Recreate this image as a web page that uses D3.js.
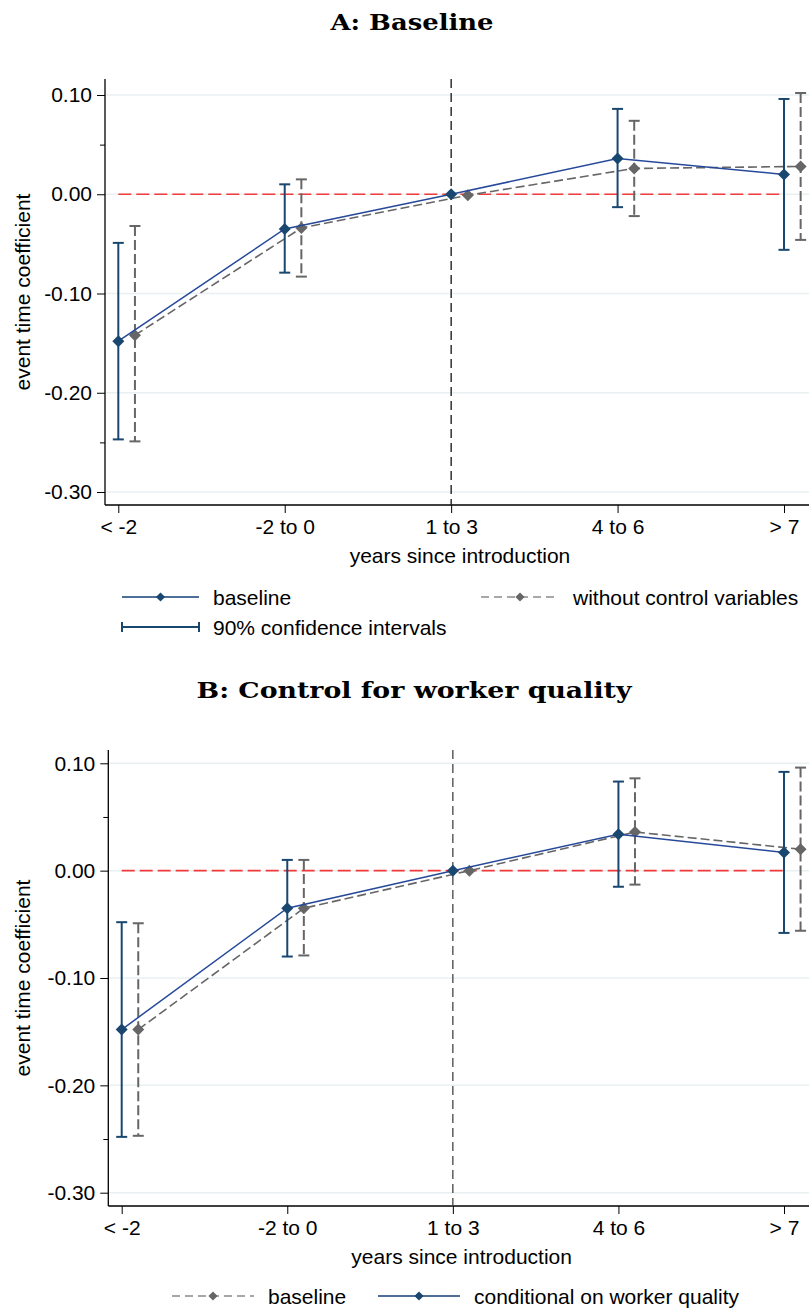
<!DOCTYPE html>
<html>
<head>
<meta charset="utf-8">
<script src="https://cdn.jsdelivr.net/npm/d3@7"></script>
<style>
  html, body { margin: 0; padding: 0; background: #fff; }
  svg { display: block; }
  text { font-family: "Liberation Sans", Arial, sans-serif; fill: #000; }
  .title { font-family: "DejaVu Serif", serif; font-weight: bold; }
</style>
</head>
<body>
<svg id="chart" width="809" height="1309"></svg>
<script>
// ---------------- data ----------------
const categories = ["< -2", "-2 to 0", "1 to 3", "4 to 6", "> 7"];
const yTicks = [0.10, 0.00, -0.10, -0.20, -0.30];
const yMinorTicks = [0.05, -0.25];

// Panel A
const aBaseline    = [-0.148, -0.035, 0.000, 0.036, 0.020];
const aBaselineLo  = [-0.247, -0.079, null, -0.013, -0.056];
const aBaselineHi  = [-0.049,  0.010, null,  0.086,  0.096];
const aNoControl   = [-0.142, -0.034, -0.001, 0.026, 0.028];
const aNoControlLo = [-0.249, -0.083, null, -0.022, -0.046];
const aNoControlHi = [-0.032,  0.015, null,  0.074,  0.102];

// Panel B
const bBaseline    = [-0.148, -0.035, 0.000, 0.036, 0.020];
const bBaselineLo  = [-0.247, -0.079, null, -0.013, -0.056];
const bBaselineHi  = [-0.049,  0.010, null,  0.086,  0.096];
const bWorker      = [-0.148, -0.035, 0.000, 0.034, 0.017];
const bWorkerLo    = [-0.248, -0.080, null, -0.015, -0.058];
const bWorkerHi    = [-0.048,  0.010, null,  0.083,  0.092];

const titles = ["A: Baseline", "B: Control for worker quality"];
const xTitle = "years since introduction";
const yTitle = "event time coefficient";

// ---------------- style ----------------
const NAVY = "#1a476f";
const LINEBLUE = "#27499a";
const GRAY = "#666666";
const RED = "#f23a3a";
const GRID = "#e9f0f2";

const svg = d3.select("#chart");
const fmt = d => (Math.abs(d) < 1e-9 ? 0 : d).toFixed(2);

function drawPanel(cfg) {
  const g = svg.append("g");
  const x = d3.scaleLinear().domain([0, 4]).range([cfg.x0, cfg.x4]);
  const y = d3.scaleLinear().domain([0.10, -0.30]).range([cfg.y10, cfg.y30]);

  // gridlines
  g.selectAll(".grid").data(yTicks).enter().append("line")
    .attr("x1", cfg.left).attr("x2", cfg.right)
    .attr("y1", d => y(d)).attr("y2", d => y(d))
    .attr("stroke", GRID).attr("stroke-width", 1.5);

  // y axis
  const yAxis = d3.axisLeft(y).tickValues(yTicks).tickFormat(fmt).tickSize(8).tickPadding(5);
  const ya = g.append("g").attr("transform", `translate(${cfg.left},0)`).call(yAxis);
  ya.select(".domain").attr("d", `M0,${cfg.top}V${cfg.bottom}`).attr("stroke", "#000").attr("stroke-width", 1.3);
  ya.selectAll(".tick line").attr("stroke", "#000").attr("stroke-width", 1);
  ya.selectAll(".tick text").style("font-size", "21px").style("font-family", "Liberation Sans, Arial, sans-serif").attr("fill", "#000");
  const yMinor = d3.axisLeft(y).tickValues(yMinorTicks).tickFormat("").tickSize(5);
  const ym = g.append("g").attr("transform", `translate(${cfg.left},0)`).call(yMinor);
  ym.select(".domain").remove();
  ym.selectAll(".tick line").attr("stroke", "#000").attr("stroke-width", 1);

  // x axis
  const xAxis = d3.axisBottom(x).tickValues([0, 1, 2, 3, 4]).tickFormat(i => categories[i]).tickSize(8).tickPadding(6);
  const xa = g.append("g").attr("transform", `translate(0,${cfg.bottom})`).call(xAxis);
  xa.select(".domain").attr("d", `M${cfg.left},0H${cfg.right}`).attr("stroke", "#000").attr("stroke-width", 1.3);
  xa.selectAll(".tick line").attr("stroke", "#000").attr("stroke-width", 1);
  xa.selectAll(".tick text").style("font-size", "21px").style("font-family", "Liberation Sans, Arial, sans-serif").attr("fill", "#000");

  // red zero line
  g.append("line").attr("x1", x(0)).attr("x2", x(4))
    .attr("y1", y(0)).attr("y2", y(0))
    .attr("stroke", RED).attr("stroke-width", 1.6).attr("stroke-dasharray", "13,5");

  // vertical dashed line at "1 to 3"
  g.append("line").attr("x1", x(2)).attr("x2", x(2))
    .attr("y1", cfg.top).attr("y2", cfg.bottom)
    .attr("stroke", cfg.vColor).attr("stroke-width", 1.3).attr("stroke-dasharray", "9,5");

  // square rotated 45deg = Stata diamond
  const diamond = d3.symbol().type(d3.symbolSquare).size(cfg.dsize);

  function drawSeries(s) {
    const xs = i => x(i + s.offset);
    // CI
    s.lo.forEach((lo, i) => {
      if (lo === null) return;
      const hi = s.hi[i];
      const cx = xs(i);
      g.append("line").attr("x1", cx).attr("x2", cx).attr("y1", y(hi)).attr("y2", y(lo))
        .attr("stroke", s.ciColor).attr("stroke-width", 2)
        .attr("stroke-dasharray", s.dashed ? "10,4" : null);
      [lo, hi].forEach(v => {
        g.append("line").attr("x1", cx - 5.5).attr("x2", cx + 5.5).attr("y1", y(v)).attr("y2", y(v))
          .attr("stroke", s.ciColor).attr("stroke-width", 2);
      });
    });
    // connecting line
    const line = d3.line().x((d, i) => xs(i)).y(d => y(d));
    g.append("path").attr("d", line(s.vals)).attr("fill", "none")
      .attr("stroke", s.lineColor).attr("stroke-width", s.dashed ? 1.6 : 1.5)
      .attr("stroke-dasharray", s.dashed ? "9,4" : null);
    // markers
    g.selectAll(null).data(s.vals).enter().append("path")
      .attr("d", diamond)
      .attr("transform", (d, i) => `translate(${xs(i)},${y(d)}) rotate(45)`)
      .attr("fill", s.markColor);
  }
  cfg.series.forEach(drawSeries);

  // titles
  svg.append("text").attr("class", "title")
    .attr("x", cfg.titleX).attr("y", cfg.titleY)
    .attr("text-anchor", "middle").style("font-size", "22px")
    .attr("textLength", cfg.titleLen).attr("lengthAdjust", "spacingAndGlyphs")
    .text(cfg.title);
  svg.append("text").attr("x", (cfg.left + cfg.right) / 2 + cfg.xtDx).attr("y", cfg.bottom + 58)
    .attr("text-anchor", "middle").style("font-size", "21px").text(xTitle);
  svg.append("text")
    .attr("transform", `translate(${cfg.ytX},${cfg.ytY}) rotate(-90)`)
    .attr("text-anchor", "middle").style("font-size", "21px").text(yTitle);

  // legend
  cfg.legend.forEach(L => {
    const lg = svg.append("g");
    if (L.type === "ci") {
      lg.append("line").attr("x1", L.x1).attr("x2", L.x2).attr("y1", L.y).attr("y2", L.y)
        .attr("stroke", NAVY).attr("stroke-width", 2);
      [L.x1, L.x2].forEach(xx => lg.append("line").attr("x1", xx).attr("x2", xx)
        .attr("y1", L.y - 5).attr("y2", L.y + 5).attr("stroke", NAVY).attr("stroke-width", 2));
    } else {
      lg.append("line").attr("x1", L.x1).attr("x2", L.x2).attr("y1", L.y).attr("y2", L.y)
        .attr("stroke", L.color).attr("stroke-width", L.dashed ? 1.5 : 2)
        .attr("stroke-dasharray", L.dashed ? "8,5" : null);
      lg.append("path").attr("d", d3.symbol().type(d3.symbolSquare).size(42))
        .attr("transform", `translate(${(L.x1 + L.x2) / 2},${L.y}) rotate(45)`).attr("fill", L.mark);
    }
    lg.append("text").attr("x", L.x2 + 14).attr("y", L.y).attr("dy", "0.36em")
      .style("font-size", "21px").text(L.label);
  });
}

drawPanel({
  title: titles[0], titleX: 412, titleY: 30, titleLen: 163,
  left: 105, right: 809, top: 79, bottom: 505,
  x0: 118.3, x4: 784, y10: 95, y30: 492,
  vColor: "#111", dsize: 72, xtDx: 3, ytX: 30, ytY: 292,
  series: [
    { vals: aNoControl, lo: aNoControlLo, hi: aNoControlHi, offset: 0.1, dashed: true,
      ciColor: GRAY, lineColor: GRAY, markColor: GRAY },
    { vals: aBaseline, lo: aBaselineLo, hi: aBaselineHi, offset: 0, dashed: false,
      ciColor: NAVY, lineColor: LINEBLUE, markColor: NAVY }
  ],
  legend: [
    { type: "line", x1: 122, x2: 199, y: 597, color: "#4e6f98", mark: NAVY, dashed: false, label: "baseline" },
    { type: "line", x1: 481, x2: 559, y: 597, color: "#8a8a8a", mark: GRAY, dashed: true, label: "without control variables" },
    { type: "ci", x1: 122, x2: 199, y: 627, label: "90% confidence intervals" }
  ]
});

drawPanel({
  title: titles[1], titleX: 414, titleY: 698, titleLen: 435,
  left: 108.3, right: 809, top: 750, bottom: 1206,
  x0: 121.7, x4: 784, y10: 763.3, y30: 1192.7,
  vColor: "#444", dsize: 72, xtDx: 3, ytX: 30, ytY: 978,
  series: [
    { vals: bBaseline, lo: bBaselineLo, hi: bBaselineHi, offset: 0.1, dashed: true,
      ciColor: GRAY, lineColor: GRAY, markColor: GRAY },
    { vals: bWorker, lo: bWorkerLo, hi: bWorkerHi, offset: 0, dashed: false,
      ciColor: NAVY, lineColor: LINEBLUE, markColor: NAVY }
  ],
  legend: [
    { type: "line", x1: 172, x2: 254, y: 1296, color: "#8a8a8a", mark: GRAY, dashed: true, label: "baseline" },
    { type: "line", x1: 378, x2: 460, y: 1296, color: "#4e6f98", mark: NAVY, dashed: false, label: "conditional on worker quality" }
  ]
});
</script>
</body>
</html>
